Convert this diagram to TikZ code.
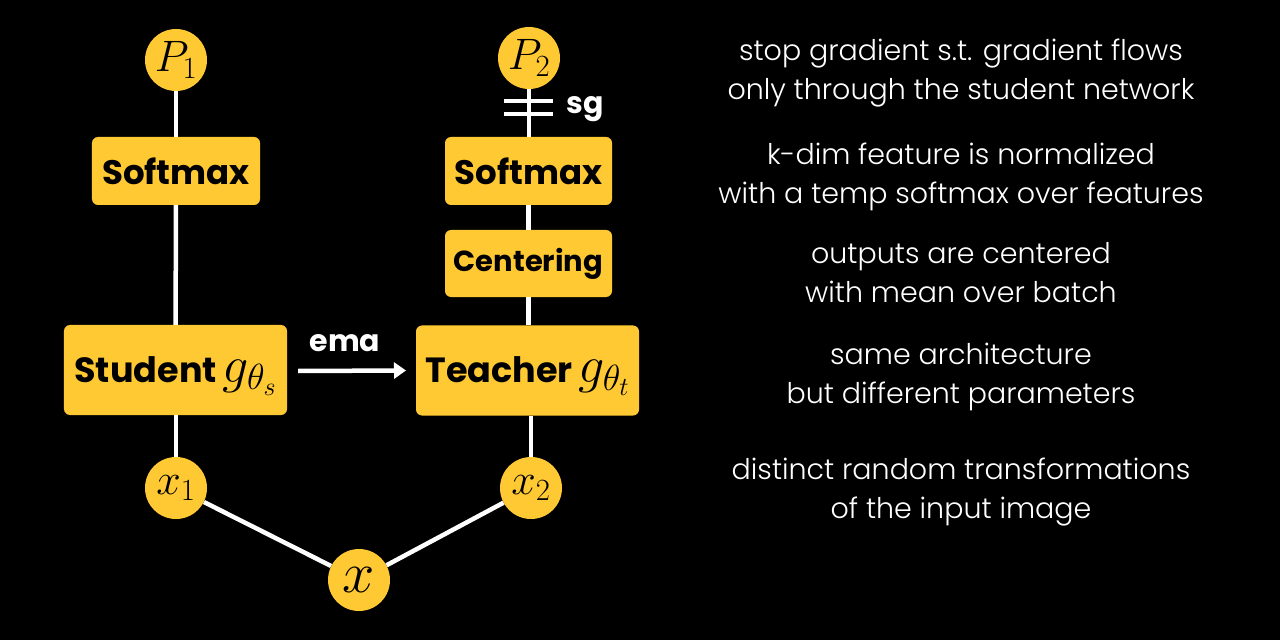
\RequirePackage{fix-cm}
\documentclass[tikz,border=0pt]{standalone}
\usepackage[no-math]{fontspec}
\setmainfont{Poppins}
\newfontfamily\lightfont{Poppins Light}
\usetikzlibrary{arrows.meta}
\definecolor{dinoyellow}{HTML}{FFC933}
\tikzset{
  blob/.style={circle, fill=dinoyellow, minimum size=62bp, inner sep=0pt, text=black},
  block/.style={rounded corners=6bp, fill=dinoyellow, text=black, inner sep=0pt,
    font=\fontsize{34bp}{40bp}\bfseries\selectfont},
  netblock/.style={block, minimum width=223bp, minimum height=90bp,
    text height=24bp, text depth=0bp, font=\fontsize{35bp}{40bp}\bfseries\selectfont},
  wire/.style={white, line width=4.5bp},
  tag/.style={text=white, font=\fontsize{30bp}{34bp}\bfseries\selectfont},
  note/.style={text=white, align=center, font=\lightfont\fontsize{28.5bp}{39bp}\selectfont},
}
\newcommand{\bigmath}{\fontsize{44bp}{44bp}\selectfont}
\newcommand{\netmath}{\fontsize{52bp}{52bp}\selectfont}
\begin{document}
\begin{tikzpicture}[x=1bp, y=-1bp]
\fill[black] (0,0) rectangle (1280,640);
\useasboundingbox (0,0) rectangle (1280,640);

% outputs
\node[blob, font=\bigmath] (p1) at (176,60) {$P_1$};
\node[blob, font=\bigmath] (p2) at (529,58) {$P_2$};

% student branch
\node[block, minimum width=168bp, minimum height=68bp] (smaxs) at (176,171) {Softmax};
\node[netblock] (stud) at (175.5,370) {Student\,{\netmath$g_{\theta_s}$}};

% teacher branch
\node[block, minimum width=167bp, minimum height=68bp] (smaxt) at (528.5,171) {Softmax};
\node[block, minimum width=167bp, minimum height=67bp, font=\fontsize{29bp}{34bp}\bfseries\selectfont] (cent) at (528.5,263.5) {Centering};
\node[netblock] (teach) at (527.5,370.5) {Teacher\,{\netmath$g_{\theta_t}$}};

% inputs
\node[blob, font=\bigmath] (x1) at (176,488) {$x_1$};
\node[blob, font=\bigmath] (x2) at (531,488) {$x_2$};
\node[blob, font=\fontsize{58bp}{58bp}\selectfont] (x) at (359,580) {$x$};

% connections
\draw[wire] (p1) -- (smaxs);
\draw[wire] (smaxs) -- (stud);
\draw[wire] (stud.south -| x1) -- (x1);
\draw[wire] (p2) -- (p2 |- smaxt.north);
\draw[wire] (smaxt) -- (cent);
\draw[wire] (cent) -- (cent |- teach.north);
\draw[wire] (x2 |- teach.south) -- (x2);
\draw[wire] (x1) -- (x);
\draw[wire] (x2) -- (x);

% stop-gradient mark
\coordinate (sga) at (504,101);
\coordinate (sgb) at (504,114);
\draw[wire] (sga) -- ++(49,0);
\draw[wire] (sgb) -- ++(49,0);
\node[tag] (sg) at (585,109) {sg};

% ema update
\draw[wire, -{Triangle[length=12bp, width=16bp]}] (stud.east) ++(11,1) coordinate (emaa) -- (teach.west -| 406,0) coordinate (emab);
\node[tag] (ema) at (345,343) {ema};

% annotations
\node[note] (n1) at (961,73) {stop gradient s.t. gradient flows\\only through the student network};
\node[note] (n2) at (961,177) {k-dim feature is normalized\\with a temp softmax over features};
\node[note] (n3) at (961,273) {outputs are centered\\with mean over batch};
\node[note] (n4) at (961,377) {same architecture\\but different parameters};
\node[note] (n5) at (961,492) {distinct random transformations\\of the input image};
\end{tikzpicture}
\end{document}
